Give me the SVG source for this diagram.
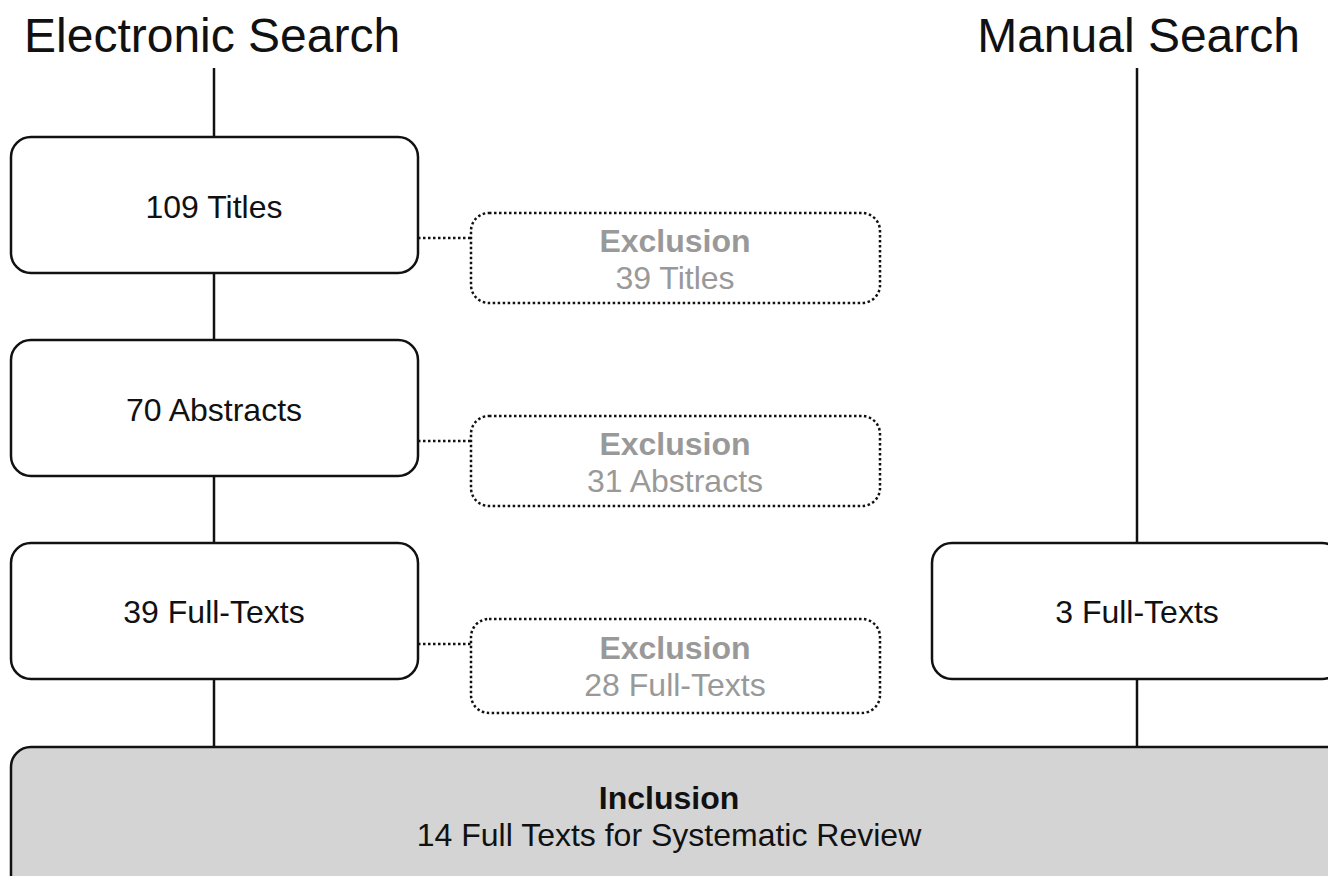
<svg xmlns="http://www.w3.org/2000/svg" width="1328" height="876" viewBox="0 0 1328 876">
<style>
.box{fill:#fff;stroke:#111;stroke-width:2.5}
.exc{fill:#fff;stroke:#111;stroke-width:2.5;stroke-dasharray:2.5 2.5}
.inc{fill:#d4d4d4;stroke:#111;stroke-width:2.5}
.ln{stroke:#111;stroke-width:2.5;fill:none}
.dl{stroke:#111;stroke-width:2.5;fill:none;stroke-dasharray:2.5 2.5}
.t{font-family:"Liberation Sans",Arial,sans-serif;font-size:32px;fill:#111;text-anchor:middle}
.g{font-family:"Liberation Sans",Arial,sans-serif;font-size:32px;fill:#999;text-anchor:middle}
.b{font-weight:bold}
.h{font-family:"Liberation Sans",Arial,sans-serif;font-size:48px;fill:#111}
</style>
<rect width="1328" height="876" fill="#fff"/>
<g id="connectors">
<line class="ln" x1="214" y1="68" x2="214" y2="137"/>
<line class="ln" x1="214" y1="273" x2="214" y2="340"/>
<line class="ln" x1="214" y1="476" x2="214" y2="543"/>
<line class="ln" x1="214" y1="679" x2="214" y2="747"/>
<line class="ln" x1="1137" y1="68" x2="1137" y2="543"/>
<line class="ln" x1="1137" y1="679" x2="1137" y2="747"/>
<line class="dl" x1="418" y1="238" x2="471" y2="238"/>
<line class="dl" x1="418" y1="441" x2="471" y2="441"/>
<line class="dl" x1="418" y1="644" x2="471" y2="644"/>
</g>
<g id="title-electronic"><text class="h" x="24" y="52">Electronic Search</text></g>
<g id="title-manual"><text class="h" x="1300" y="52" text-anchor="end">Manual Search</text></g>
<g id="n-titles"><rect class="box" x="11" y="137" width="407" height="136" rx="20"/><text class="t" x="214" y="218">109 Titles</text></g>
<g id="n-abstracts"><rect class="box" x="11" y="340" width="407" height="136" rx="20"/><text class="t" x="214" y="421">70 Abstracts</text></g>
<g id="n-fulltexts"><rect class="box" x="11" y="543" width="407" height="136" rx="20"/><text class="t" x="214" y="623">39 Full-Texts</text></g>
<g id="n-manual"><rect class="box" x="932" y="543" width="410" height="136" rx="20"/><text class="t" x="1137" y="623">3 Full-Texts</text></g>
<g id="x-titles"><rect class="exc" x="471" y="213" width="409" height="90" rx="18"/><text class="g b" x="675" y="252">Exclusion</text><text class="g" x="675" y="289">39 Titles</text></g>
<g id="x-abstracts"><rect class="exc" x="471" y="416" width="409" height="90" rx="18"/><text class="g b" x="675" y="455">Exclusion</text><text class="g" x="675" y="492">31 Abstracts</text></g>
<g id="x-fulltexts"><rect class="exc" x="471" y="619" width="409" height="94" rx="18"/><text class="g b" x="675" y="659">Exclusion</text><text class="g" x="675" y="696">28 Full-Texts</text></g>
<g id="n-inclusion"><rect class="inc" x="11" y="747" width="1340" height="150" rx="20"/><text class="t b" x="669" y="809">Inclusion</text><text class="t" x="669" y="846">14 Full Texts for Systematic Review</text></g>
</svg>
